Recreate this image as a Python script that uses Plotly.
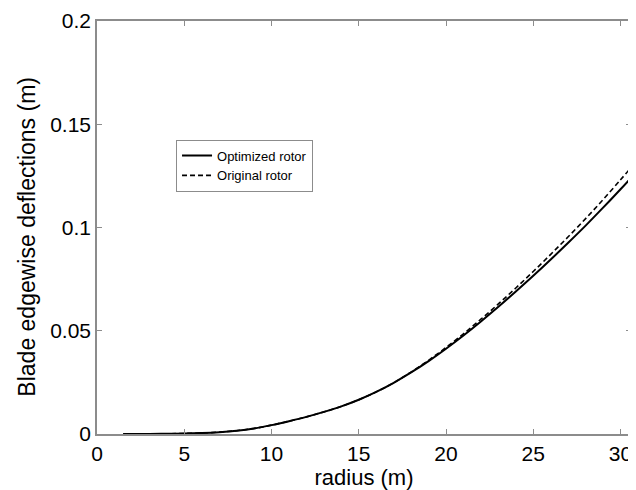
import plotly.graph_objects as go

radius = [1.5, 3, 4, 5, 6, 7, 8, 9, 10, 11, 12, 13, 14, 15, 16, 17, 18, 19, 20,
          21, 22, 23, 24, 25, 26, 27, 28, 29, 30, 30.6]
optimized = [0.0, 0.00003, 0.0001, 0.00025, 0.0005, 0.0009, 0.0016, 0.0027, 0.0043,
             0.0062, 0.0083, 0.0107, 0.0134, 0.0166, 0.0204, 0.0248, 0.0298, 0.0353,
             0.0413, 0.0477, 0.0545, 0.0616, 0.0690, 0.0766, 0.0845, 0.0926, 0.1009,
             0.1096, 0.1185, 0.1240]
original = [0.0, 0.00003, 0.0001, 0.00025, 0.0005, 0.0009, 0.0016, 0.0027, 0.0043,
            0.0062, 0.0083, 0.0107, 0.0134, 0.0166, 0.0204, 0.0248, 0.0300, 0.0357,
            0.0419, 0.0485, 0.0556, 0.0630, 0.0707, 0.0787, 0.0870, 0.0955, 0.1043,
            0.1135, 0.1231, 0.1290]

x_ticks = [0, 5, 10, 15, 20, 25, 30]
y_ticks = [0, 0.05, 0.1, 0.15, 0.2]
y_tick_text = ["0", "0.05", "0.1", "0.15", "0.2"]

FONT = "Liberation Sans, Arial, sans-serif"
AX = "#8c8c8c"

fig = go.Figure()
fig.add_trace(go.Scatter(x=radius, y=optimized, mode="lines", name="Optimized rotor",
                         line=dict(color="black", width=2, shape="spline")))
fig.add_trace(go.Scatter(x=radius, y=original, mode="lines", name="Original rotor",
                         line=dict(color="black", width=1.6, dash="5px,3px", shape="spline")))

axis_common = dict(showgrid=False, zeroline=False, showline=True, linecolor=AX, linewidth=1.5,
                   mirror="ticks", ticks="inside", ticklen=5, tickcolor=AX, tickwidth=1,
                   automargin=False, ticklabeloverflow="allow",
                   tickfont=dict(family=FONT, size=21, color="black"))

fig.update_xaxes(range=[0, 30.6], tickvals=x_ticks,
                 title=dict(text="radius (m)", font=dict(family=FONT, size=22, color="black"), standoff=0),
                 **axis_common)
fig.update_yaxes(range=[0, 0.2], tickvals=y_ticks, ticktext=y_tick_text, **axis_common)

fig.add_annotation(text="Blade edgewise deflections (m)", textangle=-90,
                   xref="paper", yref="paper", x=-0.131, y=0.478,
                   xanchor="center", yanchor="middle", showarrow=False,
                   font=dict(family=FONT, size=23, color="black"))

fig.update_layout(
    width=628, height=482,
    margin=dict(l=89, r=5, t=13, b=56),
    paper_bgcolor="white", plot_bgcolor="white",
    font=dict(family=FONT, color="black"),
    legend=dict(x=0.148, y=0.713, xanchor="left", yanchor="top",
                bgcolor="white", bordercolor=AX, borderwidth=1,
                font=dict(family=FONT, size=13, color="black"),
                tracegroupgap=0, itemwidth=30),
)

fig.write_html("out.html")
